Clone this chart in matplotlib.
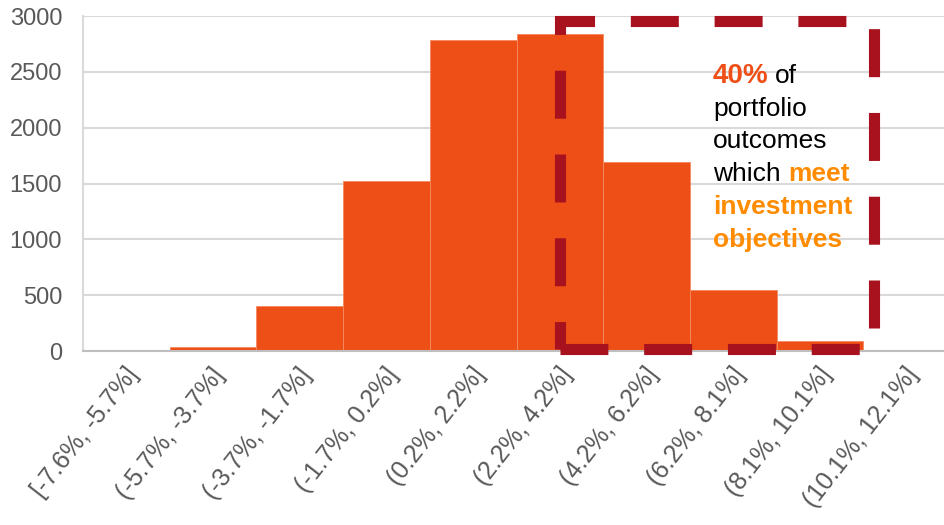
import numpy as np
import matplotlib
matplotlib.use('Agg')
import matplotlib.pyplot as plt
import matplotlib.transforms as mtransforms

plt.rcParams['font.family'] = ['Liberation Sans', 'DejaVu Sans']

bins = ['[-7.6%, -5.7%]', '(-5.7%, -3.7%]', '(-3.7%, -1.7%]', '(-1.7%, 0.2%]',
        '(0.2%, 2.2%]', '(2.2%, 4.2%]', '(4.2%, 6.2%]', '(6.2%, 8.1%]',
        '(8.1%, 10.1%]', '(10.1%, 12.1%]']
counts = [0, 40, 405, 1525, 2785, 2840, 1695, 548, 92, 0]
yticks = [0, 500, 1000, 1500, 2000, 2500, 3000]

bar_col = '#ED4F16'
box_col = '#A8121F'
grey = '#595959'

fig = plt.figure(figsize=(9.45, 5.25), dpi=100)
ax = fig.add_axes([83/945, 1-351/525, 1-83/945, (351-16)/525])

x = np.arange(len(bins))
ax.bar(x, counts, width=1.0, color=bar_col, edgecolor='#F58A62', linewidth=0.6, zorder=2)

ax.set_xlim(-0.5, 9.44)
ax.set_ylim(0, 3000)
ax.set_yticks(yticks)
ax.set_yticklabels([str(v) for v in yticks], fontsize=17, color=grey)
ax.set_xticks(x)
ax.set_xticklabels(bins, rotation=52, rotation_mode='anchor', ha='right', va='center',
                   fontsize=18, color=grey)
ax.tick_params(length=0)
ax.tick_params(axis='y', pad=15)
ax.tick_params(axis='x', pad=14)
shift = mtransforms.ScaledTranslation(7/100, 0, fig.dpi_scale_trans)
for lab in ax.get_xticklabels():
    lab.set_transform(lab.get_transform() + shift)
ax.grid(axis='y', color='#D9D9D9', linewidth=1.5, zorder=0)
ax.set_axisbelow(True)
for s in ['top', 'right']:
    ax.spines[s].set_visible(False)
ax.spines['left'].set_color('#D9D9D9')
ax.spines['left'].set_linewidth(1.5)
ax.spines['bottom'].set_color('#BFBFBF')
ax.spines['bottom'].set_linewidth(1.5)

# dashed highlight box, drawn from bottom-left corner going up
bx0, bx1, by0, by1 = 5.0, 8.62, 18, 2955
ax.plot([bx0, bx0, bx1, bx1, bx0], [by0, by1, by1, by0, by0], color=box_col,
        linewidth=8, linestyle=(1.85, (4.32, 3.22)), dash_capstyle='butt',
        dash_joinstyle='miter', clip_on=False, zorder=5)

# annotation text
def ft(px, py, s, size=19, **kw):
    fig.text(px/945, 1-py/525, s, fontsize=size, va='center', ha='left', **kw)

ft(713, 76, '40%', color=bar_col, fontweight='bold', size=20)
ft(775, 76, 'of', color='black')
ft(713, 109, 'portfolio', color='black')
ft(713, 141, 'outcomes', color='black')
ft(713, 174, 'which', color='black')
ft(788, 174, 'meet', color='#FF8C00', fontweight='bold')
ft(713, 207, 'investment', color='#FF8C00', fontweight='bold')
ft(713, 240, 'objectives', color='#FF8C00', fontweight='bold')

fig.savefig('out.png', dpi=100)
